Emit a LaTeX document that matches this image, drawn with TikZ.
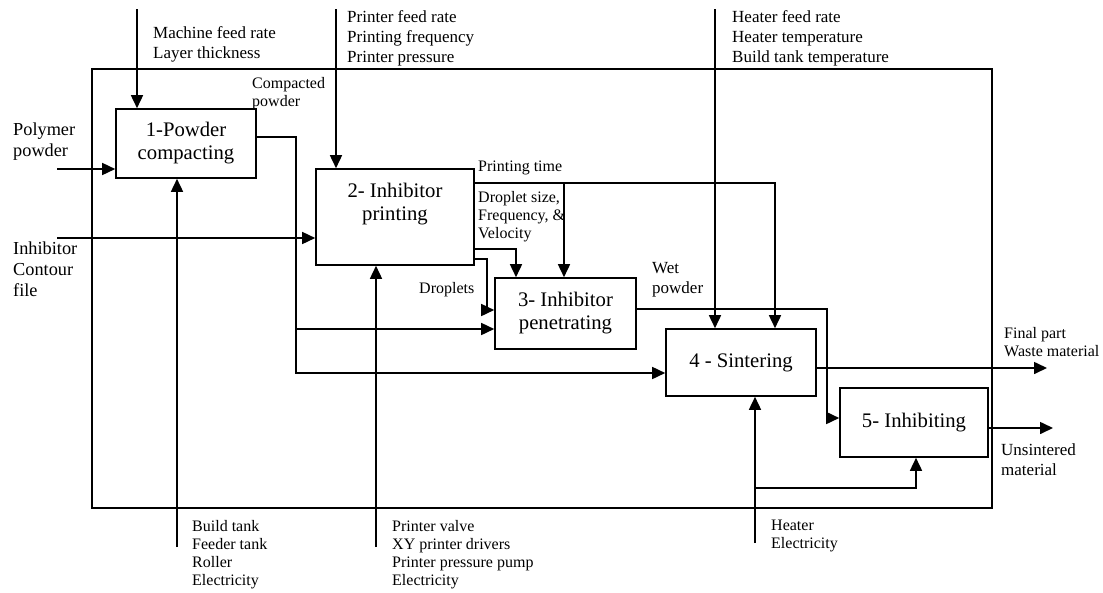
\documentclass[tikz,border=0pt]{standalone}
\usepackage{fontspec}
\setmainfont{Liberation Serif}
\usetikzlibrary{arrows.meta}
\tikzstyle{process} = [rectangle, draw=black, line width=1.6pt, align=center, inner sep=0pt, font=\fontsize{20.7}{23}\selectfont]
\tikzstyle{arrow} = [line width=1.6pt, -{Triangle[length=13pt,width=12pt]}]

\begin{document}
\begin{tikzpicture}[
    x=1pt, y=-1pt,
    lbl/.style={anchor=north west, inner sep=0pt, align=left, font=\fontsize{17}{20}\selectfont},
    slbl/.style={anchor=north west, inner sep=0pt, align=left, font=\fontsize{16}{18}\selectfont},
    sidelbl/.style={anchor=north west, inner sep=0pt, align=left, font=\fontsize{18.3}{21}\selectfont}
]
\useasboundingbox (0,0) rectangle (1103,592);

% Frame
\draw [line width=1.6pt] (92,69) rectangle (992,508);

% Nodes
\node (compact) [process, minimum width=140pt, minimum height=69pt] at (186,143.5) {1-Powder\\compacting};
\node (print) [process, minimum width=158pt, minimum height=96pt] at (395,217) {2- Inhibitor\\printing\\\strut};
\node (penetrate) [process, minimum width=141pt, minimum height=71pt] at (565.5,313.5) {3- Inhibitor\\penetrating};
\node (sinter) [process, minimum width=150pt, minimum height=67pt] at (741,362.5) {4 - Sintering};
\node (inhibit) [process, minimum width=148pt, minimum height=69pt] at (914,422.5) {5- Inhibiting};

% Free ends
\coordinate (ctlA) at (137,9);
\coordinate (ctlB) at (336,9);
\coordinate (ctlD) at (715,9);
\coordinate (inPoly) at (57,169);
\coordinate (inFile) at (57,238);
\coordinate (mechA) at (177,547);
\coordinate (mechB) at (376,547);
\coordinate (mechD) at (755,543);
\coordinate (heat) at (755,488);
\coordinate (split) at (296,329);
\coordinate (dsize) at (564,183);
\coordinate (outPart) at (1047,368);
\coordinate (outRest) at (1053,428);

% Labels
\node (lblA) [lbl] at (153,26) {Machine feed rate\\Layer thickness};
\node (lblB) [lbl] at (347,10) {Printer feed rate\\Printing frequency\\Printer pressure};
\node (lblD) [lbl] at (732,10) {Heater feed rate\\Heater temperature\\Build tank temperature};
\node (lblPoly) [sidelbl] at (13,123) {Polymer\\powder};
\node (lblFile) [sidelbl] at (13,242) {Inhibitor\\Contour\\file};
\node (lblCp) [slbl] at (252,77) {Compacted\\powder};
\node (lblTime) [slbl] at (478,161) {Printing time};
\node (lblSize) [slbl] at (478,191) {Droplet size,\\Frequency, \&\\Velocity};
\node (lblDrop) [slbl] at (419,282) {Droplets};
\node (lblWet) [lbl] at (652,262) {Wet\\powder};
\node (lblPart) [slbl] at (1004,327) {Final part\\Waste material};
\node (lblRest) [lbl] at (1001,443) {Unsintered\\material};
\node (lblMA) [slbl] at (192,520) {Build tank\\Feeder tank\\Roller\\Electricity};
\node (lblMB) [slbl] at (392,520) {Printer valve\\XY printer drivers\\Printer pressure pump\\Electricity};
\node (lblMD) [slbl] at (771,520) {Heater\\Electricity};

% Arrows
\draw [arrow] (ctlA) -- (ctlA |- compact.north);
\draw [arrow] (ctlB) -- (ctlB |- print.north);
\draw [arrow] (ctlD) -- (ctlD |- sinter.north);
\draw [arrow] (inPoly) -- (inPoly -| compact.west);
\draw [arrow] (inFile) -- (inFile -| print.west);
\draw [arrow] (mechA) -- (mechA |- compact.south);
\draw [arrow] (mechB) -- (mechB |- print.south);
\draw [arrow] (mechD) -- (mechD |- sinter.south);
\draw [arrow] (heat) -| ([xshift=2pt]inhibit.south);
\draw [arrow] ([yshift=6.5pt]compact.east) -- (296,137) -- (296,373) -- ([yshift=-10.5pt]sinter.west);
\draw [arrow] (split) -- ([yshift=-15.5pt]penetrate.west);
\draw [arrow] ([yshift=34pt]print.east) -| ([xshift=34pt]sinter.north);
\draw [arrow] (dsize) -- (dsize |- penetrate.north);
\draw [arrow] ([yshift=-32pt]print.east) -| ([xshift=-49.5pt]penetrate.north);
\draw [arrow] ([yshift=-42pt]print.east) -- (487,259) -- (487,310) -- ([yshift=3.5pt]penetrate.west);
\draw [arrow] ([yshift=4.5pt]penetrate.east) -- (827,309) |- ([yshift=4.5pt]inhibit.west);
\draw [arrow] (sinter.east |- outPart) -- (outPart);
\draw [arrow] (inhibit.east |- outRest) -- (outRest);

\end{tikzpicture}
\end{document}
